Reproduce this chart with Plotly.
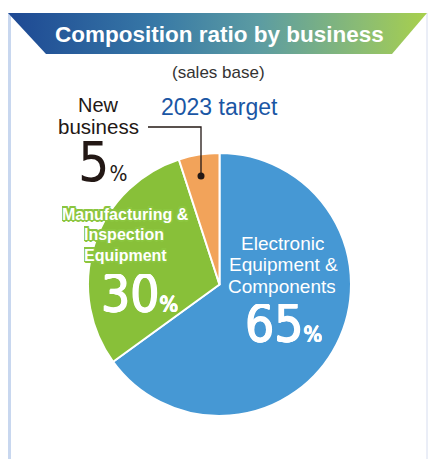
import plotly.graph_objects as go

# Business composition (sales base, 2023 target)
segments = ["Electronic Equipment & Components", "Manufacturing & Inspection Equipment", "New business"]
shares = [65, 30, 5]
colors = ["#4698d4", "#88c039", "#f2a35a"]

W, H = 428, 459
fig = go.Figure()

# Title banner with a horizontal gradient
fig.add_trace(go.Scatter(
    x=[8, 427, 392, 46, 8], y=[13, 13, 54, 54, 13],
    mode="lines", line=dict(width=0), fill="toself",
    fillgradient=dict(type="horizontal",
                      colorscale=[[0, "#1d4893"], [0.35, "#3778a6"], [0.6, "#5c9ca2"],
                                  [0.85, "#8cbd72"], [1, "#a8d04c"]]),
    hoverinfo="skip", showlegend=False))

fig.add_trace(go.Pie(
    labels=segments, values=shares, sort=False, direction="clockwise", rotation=0,
    marker=dict(colors=colors, line=dict(color="white", width=2)),
    textinfo="none", hoverinfo="label+percent", showlegend=False,
    domain=dict(x=[88 / W, 351 / W], y=[1 - 416 / H, 1 - 153 / H])))

fig.update_layout(
    width=W, height=H, margin=dict(l=0, r=0, t=0, b=0),
    paper_bgcolor="white", plot_bgcolor="white",
    xaxis=dict(range=[0, W], visible=False, fixedrange=True, domain=[0, 1]),
    yaxis=dict(range=[H, 0], visible=False, fixedrange=True, domain=[0, 1]),
)

# Frame lines
fig.add_shape(type="rect", x0=8, x1=11, y0=13, y1=H, fillcolor="#c8d7ef", line_width=0, layer="below")
fig.add_shape(type="line", x0=427, x1=427, y0=13, y1=H, line=dict(color="#d6ddef", width=1), layer="below")

# Leader for the small slice
fig.add_shape(type="path", path="M 148 127 L 201 127 L 201 176", line=dict(color="#231815", width=1.3))
fig.add_shape(type="circle", x0=197.5, x1=204.5, y0=172.5, y1=179.5, fillcolor="#231815", line_width=0)

plain = "Liberation Sans, Arial, sans-serif"
digits = "DejaVu Sans Condensed, Roboto, Liberation Sans, sans-serif"


def note(x, y, text, size, color, family=plain, shadow=None, height=None):
    font = dict(size=size, color=color, family=family)
    if shadow:
        font["shadow"] = shadow
    fig.add_annotation(x=x, y=y, xref="x", yref="y", text=text, showarrow=False,
                       font=font, xanchor="center", yanchor="middle", align="center",
                       valign="middle", borderpad=0, height=height)


def halo(color, offsets):
    return ", ".join(f"{dx}px {dy}px 0 {color}" for dx, dy in offsets)


pct = lambda v, s: f"{v}<span style='font-size:{s}px'>%</span>"

note(219, 34, "<b>Composition ratio by business</b>", 22.5, "white")
note(218, 72, "(sales base)", 17, "#333333")
note(98, 105, "New", 20, "#231815", height=20)
note(98, 126, "business", 20.5, "#231815", height=20)
note(219, 107, "2023 target", 23, "#1a56a4")
note(102, 162, pct(shares[2], 21), 55, "#231815", family=digits, height=44)

outline = halo("#8cc63f", [(2, 0), (-2, 0), (0, 2), (0, -2),
                           (1.5, 1.5), (-1.5, -1.5), (1.5, -1.5), (-1.5, 1.5)])
note(125, 214, "<b>Manufacturing &</b>", 16, "white", shadow=outline, height=20)
note(124, 234, "<b>Inspection</b>", 16, "white", shadow=outline, height=20)
note(125, 255, "<b>Equipment</b>", 16, "white", shadow=outline, height=20)

# slightly heavier strokes for the large white figures
thick = halo("white", [(0.7, 0), (-0.7, 0), (0, 0.7), (0, -0.7)])
note(139, 294, pct(shares[1], 22), 51, "white", family=digits, shadow=thick, height=40)

note(282, 243, "Electronic", 19, "white", height=21)
note(283, 264, "Equipment &", 19, "white", height=21)
note(282, 286, "Components", 19, "white", height=21)
note(283, 324, pct(shares[0], 22), 51, "white", family=digits, shadow=thick, height=40)

fig.write_html("out.html")
